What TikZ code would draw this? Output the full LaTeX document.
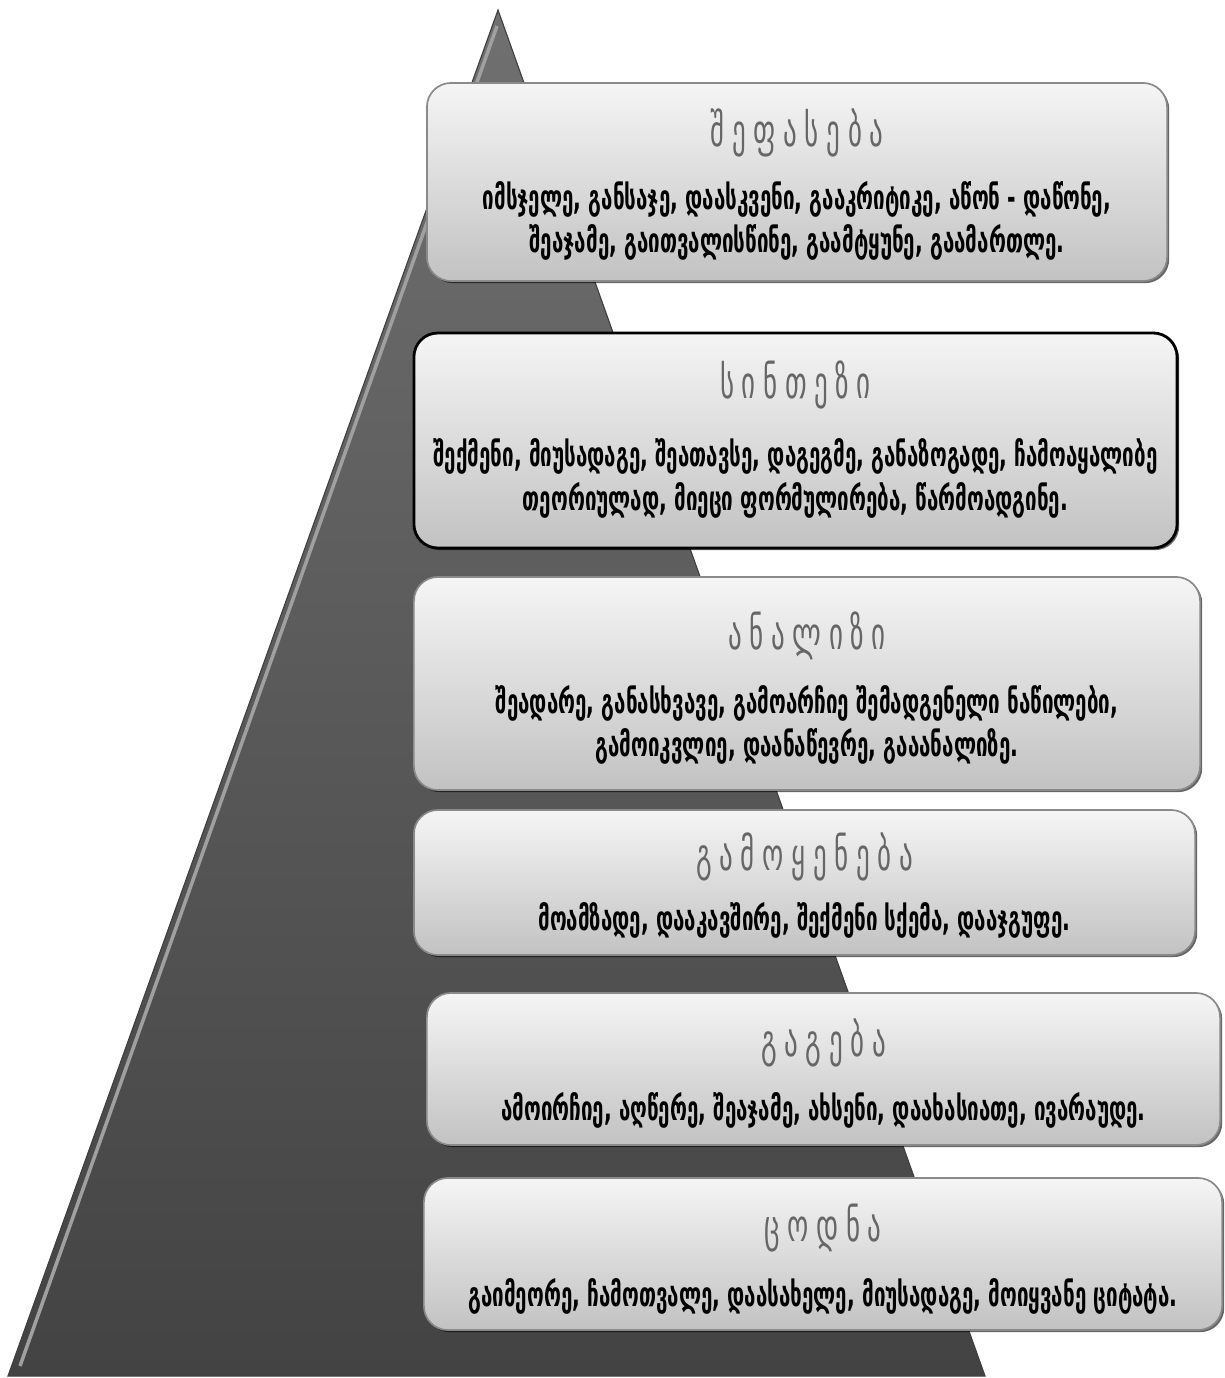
\documentclass[tikz,border=0pt]{standalone}
\usepackage{fontspec}
\usetikzlibrary{shadows}
\newfontfamily\geotitle[FakeStretch=0.6,LetterSpace=17]{DejaVu Sans}
\newfontfamily\geobody[FakeStretch=0.61]{DejaVu Sans}
\definecolor{boxtop}{HTML}{F5F5F5}
\definecolor{boxbot}{HTML}{C2C2C2}
\definecolor{boxline}{HTML}{8A8A8A}
\definecolor{pyrtop}{HTML}{707070}
\definecolor{pyrbot}{HTML}{434343}
\definecolor{pyrhi}{HTML}{A0A0A0}
\definecolor{titlegray}{HTML}{666666}
\begin{document}
\begin{tikzpicture}[x=0.025cm,y=-0.025cm,
	level/.style={draw=boxline,line width=1.2pt,rounded corners=0.6cm,top color=boxtop,bottom color=boxbot,
		drop shadow={shadow xshift=1.5pt,shadow yshift=-1.5pt,fill=black,opacity=0.6}},
	ttl/.style={text=titlegray,font=\geotitle\fontsize{32}{34}\selectfont},
	txt/.style={align=center,font=\geobody\bfseries\fontsize{24}{31}\selectfont}]
	\useasboundingbox (0,0) rectangle (1224,1378);
	% pyramid
	\coordinate (top) at (498,10);
	\coordinate (bl) at (8,1376);
	\coordinate (br) at (985,1376);
	\shade[top color=pyrtop,bottom color=pyrbot] (top) -- (br) -- (bl) -- cycle;
	\draw[pyrhi,line width=2.5pt] (497,26) -- (20,1366);
	\draw[black!75,line width=0.8pt] (top) -- (br) -- (bl) -- cycle;
	
	% levels
	\node[level,minimum width=18.5cm,minimum height=4.95cm](l1) at (797,182){};
	\node[ttl](t1) at (797,133){შეფასება};
	\node[txt](b1) at (797,221){იმსჯელე, განსაჯე, დაასკვენი, გააკრიტიკე, აწონ - დაწონე,\\შეაჯამე, გაითვალისწინე, გაამტყუნე, გაამართლე.};
	
	\node[level,draw=black,line width=2pt,minimum width=19.075cm,minimum height=5.375cm](l2) at (795.5,440.5){};
	\node[ttl](t2) at (795.5,385){სინთეზი};
	\node[txt](b2) at (795.5,478.5){შექმენი, მიუსადაგე,  შეათავსე, დაგეგმე, განაზოგადე, ჩამოაყალიბე\\თეორიულად, მიეცი ფორმულირება, წარმოადგინე.};
	
	\node[level,minimum width=19.65cm,minimum height=5.325cm](l3) at (807,683.5){};
	\node[ttl](t3) at (807,636){ანალიზი};
	\node[txt](b3) at (807,725){შეადარე, განასხვავე, გამოარჩიე  შემადგენელი ნაწილები,\\გამოიკვლიე, დაანაწევრე, გააანალიზე.};
	
	\node[level,minimum width=19.525cm,minimum height=3.625cm](l4) at (804.5,882.5){};
	\node[ttl](t4) at (804.5,857){გამოყენება};
	\node[txt](b4) at (804.5,920){მოამზადე, დააკავშირე,  შექმენი სქემა,  დააჯგუფე.};
	
	\node[level,minimum width=19.825cm,minimum height=3.8cm](l5) at (823.5,1069){};
	\node[ttl](t5) at (823.5,1043){გაგება};
	\node[txt](b5) at (823.5,1110){ამოირჩიე, აღწერე, შეაჯამე, ახსენი, დაახასიათე, ივარაუდე.};
	
	\node[level,minimum width=19.95cm,minimum height=3.8cm](l6) at (823,1254){};
	\node[ttl](t6) at (823,1228){ცოდნა};
	\node[txt](b6) at (823,1296){გაიმეორე, ჩამოთვალე,  დაასახელე,  მიუსადაგე, მოიყვანე ციტატა.};
\end{tikzpicture}
\end{document}
